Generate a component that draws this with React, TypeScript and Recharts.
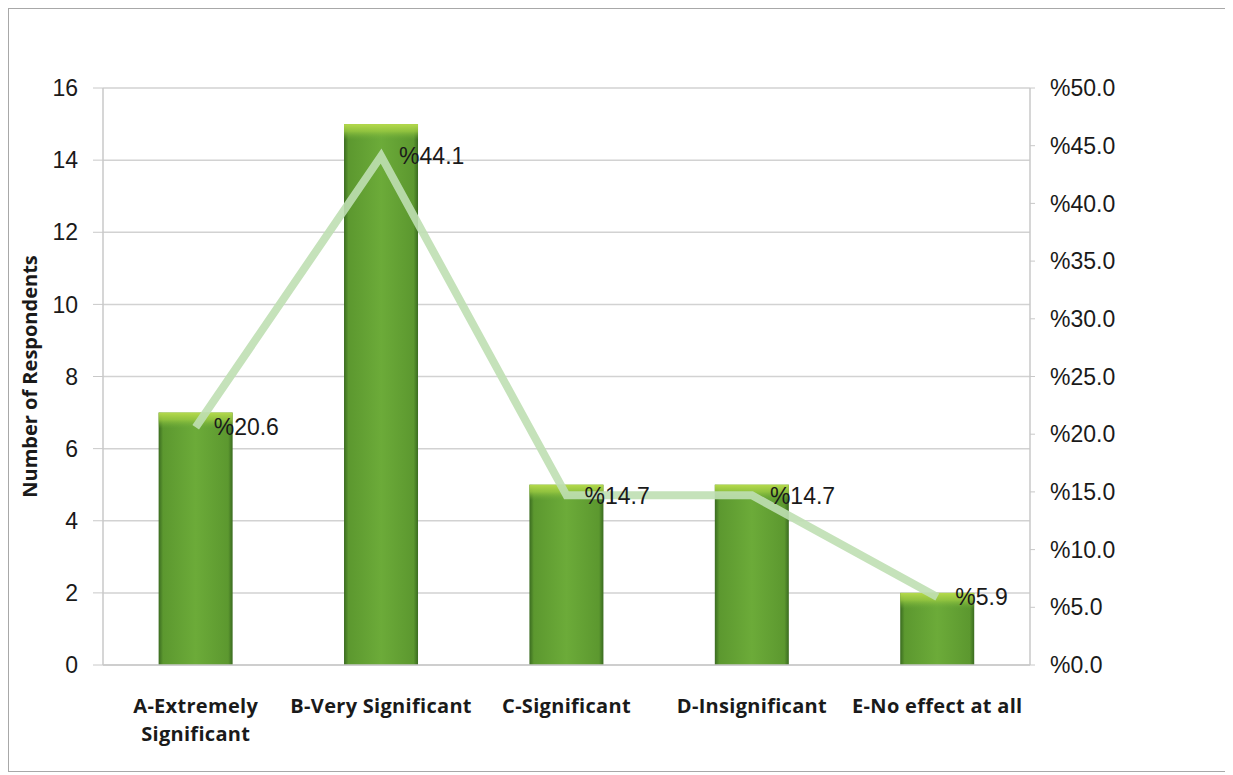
import React from "react";
import {
  Bar,
  CartesianGrid,
  ComposedChart,
  LabelList,
  Line,
  XAxis,
  YAxis,
} from "recharts";

const categories = [
  "A-Extremely Significant",
  "B-Very Significant",
  "C-Significant",
  "D-Insignificant",
  "E-No effect at all",
];
const tickLines = [
  ["A-Extremely", "Significant"],
  ["B-Very Significant"],
  ["C-Significant"],
  ["D-Insignificant"],
  ["E-No effect at all"],
];
const respondents = [7, 15, 5, 5, 2];
const percents = [20.6, 44.1, 14.7, 14.7, 5.9];
const countTicks = [0, 2, 4, 6, 8, 10, 12, 14, 16];
const percentTicks = [0, 5, 10, 15, 20, 25, 30, 35, 40, 45, 50];

const data = categories.map((name, i) => ({
  name,
  respondents: respondents[i],
  percent: percents[i],
}));

const tickFont = "'Liberation Sans', Arial, sans-serif";
const labelFont = "'Open Sans', 'Noto Sans', sans-serif";

const CategoryTick = (props: any) => {
  const { x, y, payload } = props;
  const lines = tickLines[payload.index] || [payload.value];
  return (
    <text
      x={x}
      y={y + 48}
      textAnchor="middle"
      fontFamily={labelFont}
      fontWeight={700}
      fontSize={20}
      letterSpacing={0.3}
      fill="#1a1a1a"
    >
      {lines.map((l: string, i: number) => (
        <tspan key={i} x={x} dy={i === 0 ? 0 : 28}>
          {l}
        </tspan>
      ))}
    </text>
  );
};

const BarShape = (props: any) => {
  const { x, y, width, height } = props;
  if (!height || height <= 0) return null;
  return (
    <g>
      <rect x={x} y={y} width={width} height={height} fill="url(#barBody)" />
      <rect
        x={x}
        y={y}
        width={width}
        height={Math.min(16, height)}
        fill="url(#barTop)"
      />
    </g>
  );
};

export default function App() {
  return (
    <div
      style={{
        border: "1px solid #a8a8a8",
        width: 1217,
        height: 762,
        background: "#fff",
      }}
    >
      <ComposedChart
        width={1217}
        height={762}
        data={data}
        margin={{ top: 79, right: 96, bottom: 46, left: 0 }}
        barCategoryGap="30%"
      >
        <defs>
          <linearGradient id="barBody" x1="0" y1="0" x2="1" y2="0">
            <stop offset="0" stopColor="#3a6b20" />
            <stop offset="0.06" stopColor="#5c982f" />
            <stop offset="0.5" stopColor="#6cab39" />
            <stop offset="0.94" stopColor="#5c982f" />
            <stop offset="1" stopColor="#3a6b20" />
          </linearGradient>
          <linearGradient id="barTop" x1="0" y1="0" x2="0" y2="1">
            <stop offset="0" stopColor="#b6da4c" />
            <stop offset="0.45" stopColor="#9ccb42" stopOpacity={0.8} />
            <stop offset="1" stopColor="#6cab39" stopOpacity={0} />
          </linearGradient>
        </defs>
        <CartesianGrid
          yAxisId="left"
          vertical={false}
          stroke="#d2d2d2"
          strokeWidth={1.5}
        />
        <XAxis
          dataKey="name"
          axisLine={{ stroke: "#c8c8c8", strokeWidth: 1.5 }}
          tickLine={false}
          tickSize={0}
          tickMargin={0}
          interval={0}
          height={60}
          tick={<CategoryTick />}
        />
        <YAxis
          yAxisId="left"
          domain={[0, 16]}
          ticks={countTicks}
          width={94}
          axisLine={{ stroke: "#c8c8c8", strokeWidth: 1.5 }}
          tickLine={{ stroke: "#c8c8c8" }}
          tickSize={10}
          tickMargin={15}
          tick={{ fill: "#1a1a1a", fontSize: 23, fontFamily: tickFont }}
          label={{
            content: ({ viewBox }: any) => {
              const cx = 20;
              const cy = viewBox.y + viewBox.height / 2;
              return (
                <text
                  x={cx}
                  y={cy}
                  transform={`rotate(-90, ${cx}, ${cy})`}
                  textAnchor="middle"
                  dominantBaseline="central"
                  fontFamily={labelFont}
                  fontWeight={700}
                  fontSize={20}
                  fill="#1a1a1a"
                >
                  Number of Respondents
                </text>
              );
            },
          }}
        />
        <YAxis
          yAxisId="right"
          orientation="right"
          domain={[0, 50]}
          ticks={percentTicks}
          width={100}
          axisLine={{ stroke: "#c8c8c8", strokeWidth: 1.5 }}
          tickLine={{ stroke: "#c8c8c8" }}
          tickSize={5}
          tickMargin={15}
          tickFormatter={(v: number) => "%" + v.toFixed(1)}
          tick={{ fill: "#1a1a1a", fontSize: 23, fontFamily: tickFont }}
        />
        <Bar
          yAxisId="left"
          dataKey="respondents"
          shape={<BarShape />}
          isAnimationActive={false}
        />
        <Line
          yAxisId="right"
          dataKey="percent"
          type="linear"
          stroke="#bfdfb2"
          strokeWidth={8}
          strokeOpacity={0.9}
          dot={false}
          activeDot={false}
          isAnimationActive={false}
        >
          <LabelList
            dataKey="percent"
            position="right"
            offset={18}
            formatter={(v: any) => "%" + v}
            style={{ fill: "#1a1a1a", fontSize: 23, fontFamily: tickFont }}
          />
        </Line>
      </ComposedChart>
    </div>
  );
}
